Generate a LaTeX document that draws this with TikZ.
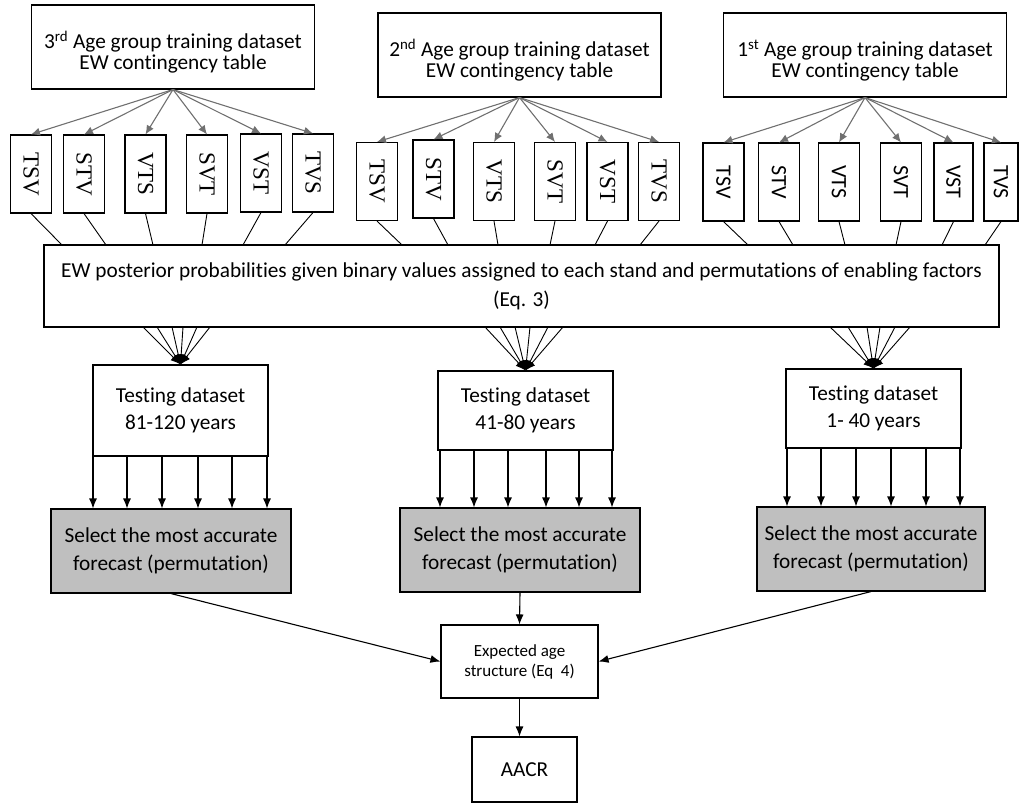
\documentclass[tikz,border=0pt]{standalone}
\usepackage{fontspec}
\usepackage{graphicx}
\setmainfont{Carlito}[Ligatures=NoCommon]
\newfontfamily\timesfont{Liberation Serif}
\usetikzlibrary{arrows.meta}
\definecolor{arrowgray}{RGB}{112,112,112}
\definecolor{selgray}{RGB}{191,191,191}
\newcommand{\topstrut}{\rule{0pt}{28pt}}
\tikzset{
  box/.style={draw, line width=1.1pt, align=center, inner sep=0pt},
  topbox/.style={box, minimum width=283, minimum height=84, font=\fontsize{21.3}{21}\selectfont},
  vbox/.style={box, minimum width=41, minimum height=78},
  vserif/.style={font=\timesfont\fontsize{23}{23}\selectfont},
  vsans/.style={font=\fontsize{22}{22}\selectfont},
  postbox/.style={box, minimum width=955, minimum height=82, font=\fontsize{21.3}{29}\selectfont},
  testbox/.style={box, minimum width=175, minimum height=79, font=\fontsize{21.3}{27}\selectfont},
  selbox/.style={box, fill=selgray, minimum width=240, minimum height=84, font=\fontsize{21.3}{28}\selectfont},
  expbox/.style={box, minimum width=157, minimum height=73, font=\fontsize{17}{20}\selectfont},
  aacrbox/.style={box, minimum width=105, minimum height=65, font=\fontsize{21.3}{21}\selectfont},
  grayarrow/.style={-{Latex[length=9pt,width=8pt]}, arrowgray, line width=1.1pt},
  blackarrow/.style={-{Latex[length=10pt,width=8pt]}, line width=1.1pt}
}
\begin{document}
\begin{tikzpicture}[x=1pt,y=-1pt]
  \useasboundingbox (0,0) rectangle (1019,805);
  \draw
    (173,47) node[topbox] (g3){\topstrut 3\textsuperscript{rd} Age group training dataset\\EW contingency table}
    (519.5,55) node[topbox] (g2){\topstrut 2\textsuperscript{nd} Age group training dataset\\EW contingency table}
    (865,55) node[topbox] (g1){\topstrut 1\textsuperscript{st} Age group training dataset\\EW contingency table};
  \draw
    (31,174) node[vbox,vserif] (g3-1){\rotatebox{-90}{TSV}}
    (84,174) node[vbox,vserif] (g3-2){\rotatebox{-90}{STV}}
    (145.5,174) node[vbox,vserif] (g3-3){\rotatebox{-90}{VTS}}
    (207,174) node[vbox,vserif] (g3-4){\rotatebox{-90}{SVT}}
    (261,173) node[vbox,vserif] (g3-5){\rotatebox{-90}{VST}}
    (313,173) node[vbox,vserif] (g3-6){\rotatebox{-90}{TVS}}
    (377,181.5) node[vbox,vserif] (g2-1){\rotatebox{-90}{TSV}}
    (433.5,179) node[vbox,vserif] (g2-2){\rotatebox{-90}{STV}}
    (494,181.5) node[vbox,vserif] (g2-3){\rotatebox{-90}{VTS}}
    (555,181.5) node[vbox,vserif] (g2-4){\rotatebox{-90}{SVT}}
    (607.5,181.5) node[vbox,vserif] (g2-5){\rotatebox{-90}{VST}}
    (659,181.5) node[vbox,vserif] (g2-6){\rotatebox{-90}{TVS}}
    (723.5,182) node[vbox,vsans] (g1-1){\rotatebox{-90}{TSV}}
    (779,182) node[vbox,vsans] (g1-2){\rotatebox{-90}{STV}}
    (839,182) node[vbox,vsans] (g1-3){\rotatebox{-90}{VTS}}
    (901,182) node[vbox,vsans] (g1-4){\rotatebox{-90}{SVT}}
    (953.5,182) node[vbox,vsans,minimum width=39] (g1-5){\rotatebox{-90}{VST}}
    (1001,182) node[vbox,vsans,minimum width=34] (g1-6){\rotatebox{-90}{TVS}};
  \draw
    (521.5,286) node[postbox] (post){EW posterior probabilities given binary values assigned to each stand and permutations of enabling factors\\(Eq. 3)}
    (180.5,410.5) node[testbox,minimum height=91] (test3){Testing dataset\\81-120 years}
    (525.5,410.5) node[testbox] (test2){Testing dataset\\41-80 years}
    (873.5,408.5) node[testbox] (test1){Testing dataset\\1- 40 years}
    (171,551) node[selbox] (sel3){Select the most accurate\\forecast (permutation)}
    (520,550) node[selbox] (sel2){Select the most accurate\\forecast (permutation)}
    (871,549) node[selbox,minimum width=228] (sel1){Select the most accurate\\forecast (permutation)}
    (519.5,661.5) node[expbox] (exp){Expected age\\structure (Eq~~4)}
    (524.5,769.5) node[aacrbox] (aacr){AACR};
  \path
    (62,245) coordinate (in3-1) (106,245) coordinate (in3-2) (153,245) coordinate (in3-3)
    (202,245) coordinate (in3-4) (243,245) coordinate (in3-5) (285,245) coordinate (in3-6)
    (402,245) coordinate (in2-1) (448,245) coordinate (in2-2) (498,245) coordinate (in2-3)
    (550,245) coordinate (in2-4) (595,245) coordinate (in2-5) (640,245) coordinate (in2-6)
    (748,245) coordinate (in1-1) (793,245) coordinate (in1-2) (845,245) coordinate (in1-3)
    (896,245) coordinate (in1-4) (942,245) coordinate (in1-5) (985,245) coordinate (in1-6)
    (143,327) coordinate (out3-1) (157,327) coordinate (out3-2) (172,327) coordinate (out3-3)
    (183,327) coordinate (out3-4) (197,327) coordinate (out3-5) (210,327) coordinate (out3-6)
    (485,327) coordinate (out2-1) (500,327) coordinate (out2-2) (515,327) coordinate (out2-3)
    (530,327) coordinate (out2-4) (548,327) coordinate (out2-5) (563,327) coordinate (out2-6)
    (830,327) coordinate (out1-1) (848,327) coordinate (out1-2) (867,327) coordinate (out1-3)
    (880,327) coordinate (out1-4) (895,327) coordinate (out1-5) (910,327) coordinate (out1-6)
    (93,456) coordinate (d3-1) (127,456) coordinate (d3-2) (162,456) coordinate (d3-3)
    (198,456) coordinate (d3-4) (232,456) coordinate (d3-5) (267,456) coordinate (d3-6)
    (440,450) coordinate (d2-1) (474,450) coordinate (d2-2) (508,450) coordinate (d2-3)
    (546,450) coordinate (d2-4) (579,450) coordinate (d2-5) (612,450) coordinate (d2-6)
    (787,448) coordinate (d1-1) (821,448) coordinate (d1-2) (856,448) coordinate (d1-3)
    (891,448) coordinate (d1-4) (926,448) coordinate (d1-5) (960,448) coordinate (d1-6);
  \begin{scope}[grayarrow]
    \draw (g3.south) to (g3-1.north);
    \draw (g3.south) to (g3-2.north);
    \draw (g3.south) to (g3-3.north);
    \draw (g3.south) to (g3-4.north);
    \draw (g3.south) to (g3-5.north);
    \draw (g3.south) to (g3-6.north);
    \draw (g2.south) to (g2-1.north);
    \draw (g2.south) to (g2-2.north);
    \draw (g2.south) to (g2-3.north);
    \draw (g2.south) to (g2-4.north);
    \draw (g2.south) to (g2-5.north);
    \draw (g2.south) to (g2-6.north);
    \draw (g1.south) to (g1-1.north);
    \draw (g1.south) to (g1-2.north);
    \draw (g1.south) to (g1-3.north);
    \draw (g1.south) to (g1-4.north);
    \draw (g1.south) to (g1-5.north);
    \draw (g1.south) to (g1-6.north);
  \end{scope}
  \begin{scope}[-, line width=0.9pt]
    \draw (g3-1.south) to (in3-1);
    \draw (g3-2.south) to (in3-2);
    \draw (g3-3.south) to (in3-3);
    \draw (g3-4.south) to (in3-4);
    \draw (g3-5.south) to (in3-5);
    \draw (g3-6.south) to (in3-6);
    \draw (g2-1.south) to (in2-1);
    \draw (g2-2.south) to (in2-2);
    \draw (g2-3.south) to (in2-3);
    \draw (g2-4.south) to (in2-4);
    \draw (g2-5.south) to (in2-5);
    \draw (g2-6.south) to (in2-6);
    \draw (g1-1.south) to (in1-1);
    \draw (g1-2.south) to (in1-2);
    \draw (g1-3.south) to (in1-3);
    \draw (g1-4.south) to (in1-4);
    \draw (g1-5.south) to (in1-5);
    \draw (g1-6.south) to (in1-6);
  \end{scope}
  \begin{scope}[blackarrow, line width=0.9pt]
    \draw (out3-1) to (test3.north);
    \draw (out3-2) to (test3.north);
    \draw (out3-3) to (test3.north);
    \draw (out3-4) to (test3.north);
    \draw (out3-5) to (test3.north);
    \draw (out3-6) to (test3.north);
    \draw (out2-1) to (test2.north);
    \draw (out2-2) to (test2.north);
    \draw (out2-3) to (test2.north);
    \draw (out2-4) to (test2.north);
    \draw (out2-5) to (test2.north);
    \draw (out2-6) to (test2.north);
    \draw (out1-1) to (test1.north);
    \draw (out1-2) to (test1.north);
    \draw (out1-3) to (test1.north);
    \draw (out1-4) to (test1.north);
    \draw (out1-5) to (test1.north);
    \draw (out1-6) to (test1.north);
  \end{scope}
  \begin{scope}[blackarrow]
    \draw (d3-1) to (d3-1 |- sel3.north);
    \draw (d3-2) to (d3-2 |- sel3.north);
    \draw (d3-3) to (d3-3 |- sel3.north);
    \draw (d3-4) to (d3-4 |- sel3.north);
    \draw (d3-5) to (d3-5 |- sel3.north);
    \draw (d3-6) to (d3-6 |- sel3.north);
    \draw (d2-1) to (d2-1 |- sel2.north);
    \draw (d2-2) to (d2-2 |- sel2.north);
    \draw (d2-3) to (d2-3 |- sel2.north);
    \draw (d2-4) to (d2-4 |- sel2.north);
    \draw (d2-5) to (d2-5 |- sel2.north);
    \draw (d2-6) to (d2-6 |- sel2.north);
    \draw (d1-1) to (d1-1 |- sel1.north);
    \draw (d1-2) to (d1-2 |- sel1.north);
    \draw (d1-3) to (d1-3 |- sel1.north);
    \draw (d1-4) to (d1-4 |- sel1.north);
    \draw (d1-5) to (d1-5 |- sel1.north);
    \draw (d1-6) to (d1-6 |- sel1.north);
    \draw (sel3.south) to (exp.west);
    \draw (sel2.south) to (exp.north);
    \draw (sel1.south) to (exp.east);
    \draw (exp.south) to (exp.south |- aacr.north);
  \end{scope}
\end{tikzpicture}
\end{document}
